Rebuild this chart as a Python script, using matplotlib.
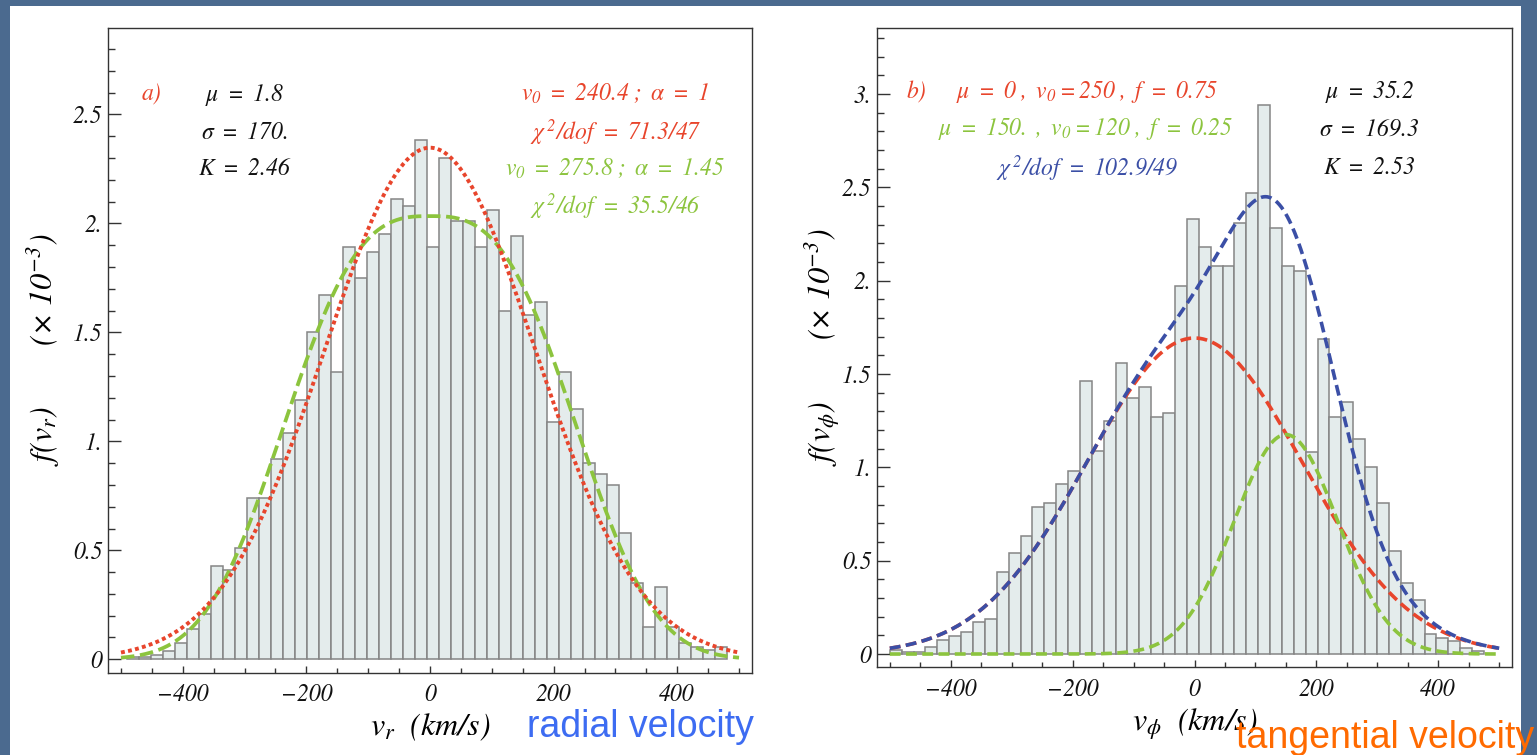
import math
import numpy as np
import matplotlib
matplotlib.use('Agg')
import matplotlib.pyplot as plt
from matplotlib.patches import Rectangle
from matplotlib.ticker import FixedLocator

plt.rcParams['font.family'] = 'STIXGeneral'
plt.rcParams['font.style'] = 'italic'
plt.rcParams['mathtext.fontset'] = 'stix'
plt.rcParams['mathtext.default'] = 'it'

# histogram heights, units of 1e-3 (km/s)^-1
vr_heights = [0.01, 0.01, 0.02, 0.04, 0.075, 0.14, 0.21, 0.43, 0.41, 0.51,
              0.74, 0.74, 0.92, 1.04, 1.19, 1.50, 1.67, 1.32, 1.89, 1.75,
              1.87, 1.95, 2.11, 2.08, 2.38, 1.89, 2.30, 2.01, 2.01, 1.89,
              2.06, 1.60, 1.94, 1.58, 1.64, 1.09, 1.32, 1.15, 0.90, 0.85,
              0.80, 0.58, 0.35, 0.15, 0.33, 0.15, 0.074, 0.055, 0.042, 0.055]
vr_range = (-490, 480)

vphi_heights = [0.02, 0.012, 0.012, 0.04, 0.075, 0.096, 0.116, 0.173, 0.19, 0.44,
                0.54, 0.63, 0.79, 0.81, 0.91, 0.98, 1.46, 1.09, 1.25, 1.56,
                1.37, 1.43, 1.27, 1.29, 1.97, 2.33, 2.18, 2.08, 2.08, 2.31,
                2.47, 2.94, 2.28, 2.08, 2.05, 1.08, 1.69, 1.27, 1.35, 1.15,
                1.00, 0.81, 0.55, 0.38, 0.29, 0.11, 0.088, 0.072, 0.033, 0.014]
vphi_range = (-500, 475)

# fit parameters: (mu, v0, alpha, fraction)
vr_fit1 = (0, 240.4, 1.0, 1.0)
vr_fit2 = (0, 275.8, 1.45, 1.0)
vphi_fit1 = (0, 250, 1.0, 0.75)
vphi_fit2 = (150, 120, 1.0, 0.25)

x_ticks = [-400, -200, 0, 200, 400]
x_ticklabels = ['\u2212400', '\u2212200', '0', '200', '400']
vr_yticks = [0, 0.5, 1, 1.5, 2, 2.5]
vr_yticklabels = ['0', '0.5', '1.', '1.5', '2.', '2.5']
vphi_yticks = [0, 0.5, 1, 1.5, 2, 2.5, 3]
vphi_yticklabels = ['0', '0.5', '1.', '1.5', '2.', '2.5', '3.']


def model(v, mu, v0, alpha, frac):
    norm = 2 * v0 * math.gamma(1 + 1 / (2 * alpha))
    return 1e3 * frac * np.exp(-np.abs((v - mu) / v0) ** (2 * alpha)) / norm


RED = '#e8452c'
GREEN = '#8cc43e'
BLUE = '#3b4fa6'
INK = '#111111'
BAR_FACE = '#e4ecec'
BAR_EDGE = '#858585'
TXT = 17

W, H = 1537, 755
fig = plt.figure(figsize=(W / 100, H / 100), dpi=100, facecolor='#4b6a8f')
fig.add_artist(Rectangle((10 / W, 0), 1511 / W, (H - 6) / H, transform=fig.transFigure,
                         facecolor='white', edgecolor='none', zorder=-10))

ax1 = fig.add_axes([108 / W, (H - 672.7) / H, 644 / W, 644.7 / H])
ax2 = fig.add_axes([877 / W, (H - 667.3) / H, 635 / W, 639.3 / H])


def draw_hist(ax, heights, lo_hi):
    edges = np.linspace(lo_hi[0], lo_hi[1], len(heights) + 1)
    ax.bar(edges[:-1], heights, width=np.diff(edges), align='edge',
           facecolor=BAR_FACE, edgecolor=BAR_EDGE, linewidth=1.1, zorder=1)


def style_axes(ax, yticks, yticklabels, ymax_minor, ylim):
    ax.set_xlim(-521, 521)
    ax.set_ylim(*ylim)
    ax.xaxis.set_major_locator(FixedLocator(x_ticks))
    ax.set_xticklabels(x_ticklabels)
    ax.xaxis.set_minor_locator(FixedLocator(np.arange(-500, 501, 50)))
    ax.yaxis.set_major_locator(FixedLocator(yticks))
    ax.set_yticklabels(yticklabels)
    ax.yaxis.set_minor_locator(FixedLocator(np.arange(0, ymax_minor + 0.01, 0.1)))
    ax.tick_params(axis='both', which='both', direction='in', top=False, right=False,
                   colors='#333333', labelcolor=INK, labelsize=17)
    ax.tick_params(axis='y', which='major', length=9, width=1.0, pad=4)
    ax.tick_params(axis='y', which='minor', length=5, width=1.0)
    ax.tick_params(axis='x', which='major', length=5, width=1.0, pad=8)
    ax.tick_params(axis='x', which='minor', length=3.5, width=1.0)
    for s in ax.spines.values():
        s.set_color('#333333')
        s.set_linewidth(1.0)


v = np.linspace(-500, 500, 600)

# panel a) radial velocity
draw_hist(ax1, vr_heights, vr_range)
ax1.plot(v, model(v, *vr_fit2), color=GREEN, lw=2.7, ls=(0, (3.6, 1.5)), zorder=3)
ax1.plot(v, model(v, *vr_fit1), color=RED, lw=2.8, ls=(0, (1, 0.85)), zorder=4)
style_axes(ax1, vr_yticks, vr_yticklabels, 2.8, (-0.0615, 2.896))
ax1.set_xlabel(r'$v_r\ \ (km/s)$', fontsize=23, labelpad=4)
ax1.set_ylabel(r'$f(v_r)\quad\quad\ \ (\times\ 10^{-3})$', fontsize=23, labelpad=8)

ax1.text(-451, 2.59, 'a)', color=RED, fontsize=TXT, ha='center', va='center')
ax1.text(-300, 2.59, r'$\mu\ =\ 1.8$', color=INK, fontsize=TXT, ha='center', va='center')
ax1.text(-300, 2.415, r'$\sigma\ =\ 170.$', color=INK, fontsize=TXT, ha='center', va='center')
ax1.text(-300, 2.25, r'$K\ =\ 2.46$', color=INK, fontsize=TXT, ha='center', va='center')
ax1.text(300, 2.595, r'$v_0\ =\ 240.4\ ;\ \alpha\ =\ 1$', color=RED, fontsize=TXT, ha='center', va='center')
ax1.text(300, 2.42, r'$\chi^{\,2}/dof\ =\ 71.3/47$', color=RED, fontsize=TXT, ha='center', va='center')
ax1.text(300, 2.25, r'$v_0\ =\ 275.8\ ;\ \alpha\ =\ 1.45$', color=GREEN, fontsize=TXT, ha='center', va='center')
ax1.text(300, 2.08, r'$\chi^{\,2}/dof\ =\ 35.5/46$', color=GREEN, fontsize=TXT, ha='center', va='center')

# panel b) tangential velocity
draw_hist(ax2, vphi_heights, vphi_range)
c1 = model(v, *vphi_fit1)
c2 = model(v, *vphi_fit2)
ax2.plot(v, c1, color=RED, lw=2.6, ls=(0, (3.0, 1.5)), zorder=3)
ax2.plot(v, c2, color=GREEN, lw=2.6, ls=(0, (3.0, 1.5)), zorder=3)
ax2.plot(v, c1 + c2, color=BLUE, lw=2.6, ls=(0, (3.0, 1.5)), zorder=4)
style_axes(ax2, vphi_yticks, vphi_yticklabels, 3.3, (-0.071, 3.353))
ax2.set_xlabel(r'$v_\phi\ \ (km/s)$', fontsize=23, labelpad=4)
ax2.set_ylabel(r'$f(v_\phi)\quad\quad\ \ (\times\ 10^{-3})$', fontsize=23, labelpad=0)

ax2.text(-457, 3.01, 'b)', color=RED, fontsize=TXT, ha='center', va='center')
ax2.text(-176, 3.01, r'$\mu\ =\ 0\ ,\ v_0 = 250\ ,\ f\ =\ 0.75$', color=RED, fontsize=TXT, ha='center', va='center')
ax2.text(-178, 2.81, r'$\mu\ =\ 150.\ ,\ v_0 = 120\ ,\ f\ =\ 0.25$', color=GREEN, fontsize=TXT, ha='center', va='center')
ax2.text(-176, 2.605, r'$\chi^{\,2}/dof\ =\ 102.9/49$', color=BLUE, fontsize=TXT, ha='center', va='center')
ax2.text(287, 3.01, r'$\mu\ =\ 35.2$', color=INK, fontsize=TXT, ha='center', va='center')
ax2.text(287, 2.81, r'$\sigma\ =\ 169.3$', color=INK, fontsize=TXT, ha='center', va='center')
ax2.text(287, 2.605, r'$K\ =\ 2.53$', color=INK, fontsize=TXT, ha='center', va='center')

fig.text(527 / W, (H - 737) / H, 'radial velocity', color='#3d6cf2', fontsize=27,
         family='Liberation Sans', style='normal', va='baseline', ha='left')
fig.text(1236 / W, (H - 748) / H, 'tangential velocity', color='#ff6a00', fontsize=27,
         family='Liberation Sans', style='normal', va='baseline', ha='left')

fig.savefig('out.png', dpi=100, facecolor=fig.get_facecolor())
